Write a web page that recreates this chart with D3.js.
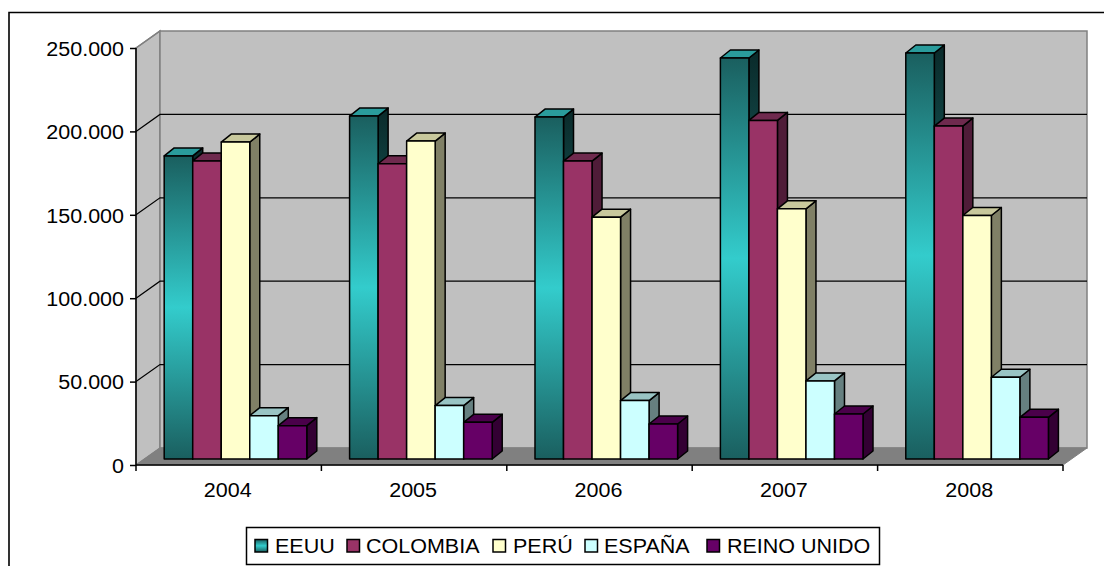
<!DOCTYPE html>
<html>
<head>
<meta charset="utf-8">
<script src="https://cdn.jsdelivr.net/npm/d3@7/dist/d3.min.js"></script>
<style>
html, body { margin: 0; padding: 0; background: #fff; }
svg { display: block; }
text { font-family: "Liberation Sans", Arial, sans-serif; fill: #000; }
</style>
</head>
<body>
<svg id="chart" width="1104" height="566"></svg>
<script>
const years = ["2004", "2005", "2006", "2007", "2008"];
const seriesNames = ["EEUU", "COLOMBIA", "PERÚ", "ESPAÑA", "REINO UNIDO"];
const eeuu = [181700, 205600, 205000, 240400, 243400];
const colombia = [178700, 177000, 178600, 203000, 199600];
const peru = [190000, 190600, 145000, 150000, 146000];
const espana = [26000, 32000, 35000, 46800, 49000];
const reinoUnido = [20000, 22000, 21000, 27000, 25000];
const yTicks = [0, 50000, 100000, 150000, 200000, 250000];

const seriesValues = [eeuu, colombia, peru, espana, reinoUnido];
const faces = [
  { front: null, top: "#2a9c9c", side: "url(#sideTeal)" },
  { front: "#993366", top: "#6f2a4e", side: "#4f1c38" },
  { front: "#ffffcc", top: "#c8c89c", side: "#808066" },
  { front: "#ccffff", top: "#99c4c4", side: "#668080" },
  { front: "#660066", top: "#4a004a", side: "#330033" }
];

const svg = d3.select("#chart");
const left = 136, right = 1063, baseY = 465, topY = 48;
const depthX = 24, depthY = -17;
// Bars stand a third of the way into the floor depth.
const barInsetX = 6.8, barInsetY = -6;
const barDepthX = 10, barDepthY = -8;

const y = d3.scaleLinear().domain([0, 250000]).range([baseY, topY]);
const x0 = d3.scaleBand().domain(years).range([left, right]);
const barW = x0.bandwidth() / 6.5;
const x1 = d3.scaleBand().domain(seriesNames)
  .range([0.75 * barW, 5.75 * barW]);

// Labels are set slightly wider than the font's natural advance.
function widen(sel) {
  sel.each(function () {
    d3.select(this)
      .attr("textLength", this.getComputedTextLength() * 1.075)
      .attr("lengthAdjust", "spacingAndGlyphs");
  });
}

const defs = svg.append("defs");
function tealGradient(id, dark, mid) {
  const g = defs.append("linearGradient").attr("id", id)
    .attr("x1", 0).attr("y1", 0).attr("x2", 0).attr("y2", 1);
  g.append("stop").attr("offset", "0%").attr("stop-color", dark);
  g.append("stop").attr("offset", "50%").attr("stop-color", mid);
  g.append("stop").attr("offset", "100%").attr("stop-color", dark);
}
tealGradient("frontTeal", "#1a5f5f", "#33cccc");
tealGradient("sideTeal", "#0a2a2a", "#1a6666");
tealGradient("swatchTeal", "#1a5f5f", "#33cccc");

// Outer chart frame: left and top edges only remain in view
svg.append("path")
  .attr("d", "M9,566V12.5H1104")
  .attr("fill", "none").attr("stroke", "#000").attr("stroke-width", 1.6);

const pts = a => a.map(p => p.join(",")).join(" ");

// Side wall, back wall and floor of the plot box
svg.append("polygon")
  .attr("points", pts([[left, topY], [left + depthX, topY + depthY],
    [left + depthX, baseY + depthY], [left, baseY]]))
  .attr("fill", "#c0c0c0").attr("stroke", "#808080").attr("stroke-width", 1.5);
svg.append("rect")
  .attr("x", left + depthX).attr("y", topY + depthY)
  .attr("width", right - left).attr("height", baseY - topY)
  .attr("fill", "#c0c0c0").attr("stroke", "#808080").attr("stroke-width", 1.5);
svg.append("polygon")
  .attr("points", pts([[left, baseY], [left + depthX, baseY + depthY],
    [right + depthX, baseY + depthY], [right, baseY]]))
  .attr("fill", "#808080").attr("stroke", "#808080");

// Gridlines run across the side wall and along the back wall
const grid = svg.append("g");
yTicks.filter(t => t > 0 && t < 250000).forEach(t => {
  grid.append("polyline")
    .attr("points", pts([[left, y(t)], [left + depthX, y(t) + depthY],
      [right + depthX, y(t) + depthY]]))
    .attr("fill", "none").attr("stroke", "#000").attr("stroke-width", 1.2);
});
grid.append("line")
  .attr("x1", left).attr("y1", y(250000))
  .attr("x2", left + depthX).attr("y2", y(250000) + depthY)
  .attr("stroke", "#808080").attr("stroke-width", 1.5);

// Bars, drawn left to right so nearer faces overlap their neighbours' sides
years.forEach((yr, i) => {
  seriesNames.forEach((name, s) => {
    const v = seriesValues[s][i];
    const xL = x0(yr) + x1(name) + barInsetX;
    const xR = xL + x1.bandwidth();
    const yT = y(v) + barInsetY;
    const yB = baseY + barInsetY;
    const g = svg.append("g").attr("stroke", "#000").attr("stroke-width", 1.5)
      .attr("stroke-linejoin", "round");
    g.append("polygon")
      .attr("points", pts([[xR, yT], [xR + barDepthX, yT + barDepthY],
        [xR + barDepthX, yB + barDepthY], [xR, yB]]))
      .attr("fill", faces[s].side);
    g.append("polygon")
      .attr("points", pts([[xL, yT], [xL + barDepthX, yT + barDepthY],
        [xR + barDepthX, yT + barDepthY], [xR, yT]]))
      .attr("fill", faces[s].top);
    g.append("rect")
      .attr("x", xL).attr("y", yT)
      .attr("width", xR - xL).attr("height", yB - yT)
      .attr("fill", s === 0 ? "url(#frontTeal)" : faces[s].front);
  });
});

// Axes
const yAxis = d3.axisLeft(y).tickValues(yTicks).tickSize(6).tickPadding(6)
  .tickFormat(d => d3.format(",")(d).replace(/,/g, "."));
const gy = svg.append("g").attr("transform", `translate(${left},0)`).call(yAxis);
const xAxisTicks = d3.range(0, years.length + 1).map(i => left + i * x0.bandwidth());
const gx = svg.append("g").attr("transform", `translate(0,${baseY})`);
gx.append("line").attr("x1", left).attr("x2", right).attr("stroke", "#000");
gx.selectAll("line.tick").data(xAxisTicks).join("line").attr("class", "tick")
  .attr("x1", d => d).attr("x2", d => d).attr("y1", 0).attr("y2", 6).attr("stroke", "#000");
gx.selectAll("text").data(years).join("text")
  .attr("x", d => x0(d) + x0.bandwidth() / 2 - 1).attr("y", 32)
  .attr("text-anchor", "middle").style("font-size", "20px").text(d => d)
  .call(widen);
gy.selectAll("text").style("font-size", "20px").style("font-family", '"Liberation Sans"')
  .attr("dy", "0.36em").call(widen);
gy.selectAll("line,path").attr("stroke", "#000").attr("stroke-width", 1.5);
gx.selectAll("line").attr("stroke-width", 1.5);
gy.select("path.domain").attr("d", `M0,${baseY}V${topY}`);

// Legend
const legend = svg.append("g");
legend.append("rect").attr("x", 246.5).attr("y", 527.5).attr("width", 633).attr("height", 37)
  .attr("fill", "#fff").attr("stroke", "#000").attr("stroke-width", 1.5);
const swatchX = [255, 347, 493, 585, 707];
const labelX = [275, 366, 513, 604, 727];
seriesNames.forEach((name, s) => {
  legend.append("rect").attr("x", swatchX[s]).attr("y", 539.5).attr("width", 12.5).attr("height", 12.5)
    .attr("fill", s === 0 ? "url(#swatchTeal)" : faces[s].front)
    .attr("stroke", "#000").attr("stroke-width", 1.5);
  legend.append("text").attr("x", labelX[s]).attr("y", 553)
    .style("font-size", "20px").text(name).call(widen);
});
</script>
</body>
</html>
